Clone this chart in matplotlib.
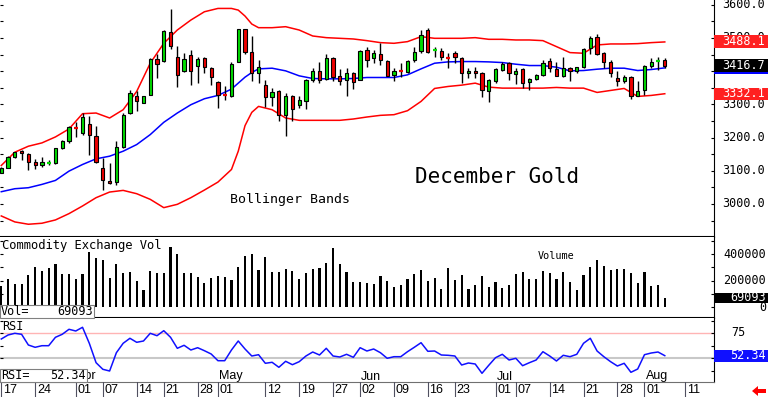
import numpy as np
import pandas as pd
import matplotlib
matplotlib.use("Agg")
import matplotlib.pyplot as plt
import matplotlib.transforms as mtransforms
from matplotlib.patches import Rectangle, Polygon

W, H = 768, 397
MONO = "DejaVu Sans Mono"
SANS = "Liberation Sans"

# trading calendar (COMEX holidays removed)
holidays = ["2025-04-18", "2025-05-26", "2025-06-19", "2025-07-04"]
days = pd.bdate_range("2025-03-17", "2025-08-15")
days = days[~days.isin(pd.to_datetime(holidays))]

# December gold daily candles, Mar 17 .. Aug 6
opens = [3093, 3109, 3141, 3160, 3152, 3126, 3116, 3123, 3122, 3168,
         3191, 3230, 3214, 3241, 3206, 3107, 3069, 3066, 3171, 3274,
         3324, 3304, 3327, 3438, 3430, 3517, 3444, 3402, 3449, 3415,
         3440, 3411, 3366, 3329, 3324, 3429, 3526, 3459, 3396, 3357,
         3322, 3339, 3269, 3324, 3297, 3311, 3374, 3402, 3377, 3439,
         3384, 3372, 3394, 3374, 3464, 3439, 3452, 3431, 3389, 3403,
         3399, 3434, 3462, 3524, 3463, 3462, 3442, 3456, 3439, 3394,
         3402, 3394, 3339, 3369, 3404, 3424, 3391, 3406, 3367, 3377,
         3389, 3432, 3406, 3386, 3409, 3401, 3414, 3469, 3504, 3456,
         3429, 3379, 3369, 3382, 3326, 3342, 3417, 3431, 3434]
highs = [3110, 3146, 3158, 3164, 3154, 3136, 3142, 3134, 3170, 3193,
         3236, 3246, 3274, 3264, 3234, 3139, 3124, 3190, 3274, 3342,
         3339, 3326, 3439, 3452, 3524, 3586, 3477, 3456, 3464, 3442,
         3444, 3414, 3369, 3354, 3429, 3528, 3528, 3506, 3434, 3374,
         3349, 3344, 3334, 3329, 3324, 3376, 3409, 3429, 3451, 3444,
         3406, 3409, 3399, 3464, 3474, 3464, 3484, 3434, 3409, 3426,
         3434, 3474, 3524, 3529, 3474, 3469, 3456, 3462, 3442, 3409,
         3414, 3399, 3377, 3409, 3429, 3429, 3409, 3409, 3379, 3392,
         3434, 3439, 3429, 3442, 3414, 3414, 3471, 3506, 3511, 3459,
         3434, 3402, 3389, 3386, 3369, 3419, 3439, 3444, 3439]
lows = [3092, 3107, 3139, 3132, 3102, 3106, 3111, 3118, 3121, 3166,
        3184, 3202, 3209, 3147, 3124, 3041, 3059, 3057, 3169, 3271,
        3279, 3304, 3327, 3379, 3427, 3467, 3352, 3398, 3359, 3364,
        3394, 3359, 3289, 3314, 3322, 3427, 3452, 3369, 3364, 3292,
        3296, 3249, 3206, 3249, 3289, 3287, 3367, 3364, 3374, 3369,
        3357, 3324, 3346, 3374, 3414, 3424, 3419, 3384, 3371, 3382,
        3394, 3429, 3456, 3454, 3442, 3434, 3411, 3424, 3364, 3379,
        3379, 3321, 3308, 3364, 3402, 3374, 3362, 3349, 3344, 3374,
        3386, 3399, 3384, 3381, 3371, 3394, 3411, 3452, 3449, 3409,
        3382, 3354, 3364, 3316, 3324, 3329, 3409, 3404, 3411]
closes = [3107, 3143, 3156, 3155, 3127, 3117, 3126, 3125, 3168, 3190,
          3231, 3227, 3262, 3207, 3127, 3071, 3062, 3173, 3269, 3334,
          3309, 3324, 3436, 3422, 3520, 3477, 3388, 3438, 3400, 3436,
          3412, 3381, 3328, 3327, 3421, 3526, 3459, 3396, 3414, 3322,
          3337, 3269, 3324, 3287, 3314, 3374, 3401, 3374, 3441, 3382,
          3369, 3394, 3368, 3461, 3434, 3454, 3434, 3386, 3402, 3401,
          3430, 3459, 3509, 3459, 3465, 3442, 3440, 3444, 3394, 3401,
          3396, 3342, 3372, 3406, 3422, 3394, 3402, 3364, 3377, 3389,
          3426, 3409, 3386, 3409, 3401, 3412, 3466, 3501, 3452, 3429,
          3396, 3369, 3382, 3324, 3341, 3416, 3429, 3433, 3416.7]

# Bollinger bands
band_idx = [0, 2, 4, 6, 8, 10, 12, 14, 16, 18, 20, 22, 24, 26, 28, 30, 32, 34, 35, 36,
            37, 38, 40, 42, 44, 46, 48, 50, 52, 54, 56, 58, 60, 62, 64, 66, 68, 70, 72,
            74, 76, 78, 80, 82, 84, 86, 88, 90, 92, 94, 96, 98]
band_upper = [3116, 3156, 3174, 3184, 3202, 3226, 3272, 3274, 3259, 3284, 3339, 3424,
              3484, 3524, 3554, 3579, 3589, 3589, 3584, 3566, 3542, 3531, 3531, 3534,
              3524, 3506, 3501, 3499, 3497, 3492, 3486, 3484, 3489, 3504, 3499, 3499,
              3499, 3501, 3496, 3496, 3494, 3494, 3492, 3474, 3456, 3454, 3479, 3482,
              3482, 3483, 3486, 3488.1]
band_mid = [3037, 3046, 3049, 3059, 3071, 3099, 3119, 3136, 3144, 3159, 3179, 3209,
            3246, 3274, 3299, 3317, 3327, 3346, 3364, 3382, 3396, 3407, 3409, 3401,
            3386, 3378, 3377, 3377, 3378, 3381, 3381, 3381, 3389, 3407, 3424, 3428,
            3429, 3429, 3428, 3426, 3421, 3417, 3417, 3412, 3401, 3402, 3406, 3409,
            3409, 3402, 3405, 3410]
band_lower = [2964, 2946, 2939, 2942, 2952, 2971, 2994, 3019, 3036, 3041, 3031, 3014,
              2989, 2999, 3019, 3042, 3066, 3104, 3159, 3236, 3276, 3294, 3284, 3259,
              3252, 3252, 3252, 3252, 3256, 3262, 3267, 3269, 3281, 3309, 3348, 3354,
              3358, 3364, 3352, 3349, 3349, 3349, 3349, 3351, 3349, 3349, 3336, 3342,
              3348, 3324, 3327, 3332.1]

# Commodity exchange volume, thousands of contracts
volume_k = [158.5, 208.8, 171.1, 173.6, 241.5, 304.4, 271.7, 291.9, 324.6, 246.6,
            246.6, 211.3, 249.1, 417.7, 367.3, 354.8, 216.4, 322.0, 254.1, 266.7,
            196.2, 128.3, 274.2, 259.1, 259.1, 450.4, 397.5, 254.1, 254.1, 223.9,
            178.6, 216.4, 234.0, 229.0, 203.8, 299.4, 384.9, 397.5, 279.3, 374.9,
            266.7, 266.7, 284.3, 271.7, 211.3, 259.1, 284.3, 291.9, 329.6, 442.8,
            324.6, 261.7, 191.2, 191.2, 178.6, 173.6, 234.0, 196.2, 153.5, 166.1,
            208.8, 246.6, 279.3, 196.2, 216.4, 133.3, 291.9, 203.8, 241.5, 135.9,
            166.1, 234.0, 148.4, 186.2, 145.9, 166.1, 249.1, 266.7, 211.3, 211.3,
            274.2, 254.1, 208.8, 266.7, 186.2, 128.3, 241.5, 304.4, 354.8, 309.5,
            279.3, 286.8, 286.8, 254.1, 183.7, 266.7, 158.5, 166.1, 69.093]

rsi = [69.0, 73.0, 74.7, 73.7, 63.0, 60.7, 62.3, 62.3, 70.7, 73.7,
       78.7, 77.0, 80.7, 64.7, 45.3, 38.7, 37.0, 55.3, 64.7, 69.7,
       65.7, 67.0, 74.7, 72.3, 77.3, 70.7, 59.7, 62.7, 58.0, 60.3,
       57.3, 54.0, 47.3, 47.3, 58.0, 67.0, 59.0, 52.0, 53.3, 44.7,
       45.7, 40.7, 46.7, 43.3, 46.3, 52.0, 56.0, 53.0, 59.7, 52.0,
       51.0, 53.7, 50.7, 60.3, 57.0, 59.0, 55.3, 49.7, 51.3, 51.3,
       56.3, 60.7, 65.3, 56.7, 57.0, 53.0, 52.7, 52.0, 43.0, 45.0,
       44.0, 34.7, 42.7, 50.3, 53.7, 48.0, 49.7, 42.3, 45.3, 48.0,
       56.3, 52.0, 47.0, 52.7, 51.3, 53.7, 64.7, 69.7, 57.0, 51.3,
       46.3, 42.0, 44.7, 35.7, 39.0, 53.3, 55.0, 56.0, 52.34]

# price scale labels (3400.0 sits fully under the last-price box in the original)
price_labels = [3000, 3100, 3200, 3300, 3500, 3600]

tick_dates = ["2025-03-17", "2025-03-24", "2025-04-01", "2025-04-07", "2025-04-14",
              "2025-04-21", "2025-04-28", "2025-05-01", "2025-05-12", "2025-05-19",
              "2025-05-27", "2025-06-02", "2025-06-09", "2025-06-16", "2025-06-23",
              "2025-07-01", "2025-07-07", "2025-07-14", "2025-07-21", "2025-07-28",
              "2025-08-01", "2025-08-11"]
month_labels = ["Apr", "May", "Jun", "Jul", "Aug"]
month_dates = ["2025-04-01", "2025-05-01", "2025-06-02", "2025-07-01", "2025-08-01"]

day_pos = {d.strftime("%Y-%m-%d"): i for i, d in enumerate(days)}
x = np.arange(len(closes))
XLIM = (-0.19, 105.27)
GREEN, RED = "#00dd00", "#ee0000"

fig = plt.figure(figsize=(W / 100, H / 100), dpi=100)


def add_panel(top, bottom):
    a = fig.add_axes([0, 1 - bottom / H, 714 / W, (bottom - top) / H])
    a.set_xlim(*XLIM)
    a.set_xticks([])
    a.spines["top"].set_visible(False)
    a.spines["left"].set_visible(False)
    a.tick_params(axis="y", direction="in", length=2, left=True, right=True,
                  labelleft=False, labelright=False)
    return a


def fx(px):
    return px / W


def fy(py):
    return 1 - py / H


ax = add_panel(0, 237)
axv = add_panel(237, 318)
axr = add_panel(318, 382)
axd = fig.add_axes([0, 0, 714 / W, 15 / H])
axd.set_xlim(*XLIM)
axd.axis("off")

# ---- price panel
ax.set_ylim(2900.6, 3614.4)
ax.set_yticks(np.arange(2950, 3601, 50))
ax.spines["bottom"].set_linewidth(1.5)
for i in x:
    o, hi, lo, c = opens[i], highs[i], lows[i], closes[i]
    col = GREEN if c >= o else RED
    ax.vlines(i, lo, hi, color="black", lw=1, zorder=2)
    if abs(c - o) < 4:
        ax.hlines((o + c) / 2, i - 0.3, i + 0.3, color=col, lw=1.6, zorder=3)
    else:
        ax.add_patch(Rectangle((i - 0.24, min(o, c)), 0.48, abs(c - o), fc=col,
                               ec="black", lw=0.8, zorder=3))
ax.plot(band_idx, band_upper, color="#ff0000", lw=1.1, zorder=1)
ax.plot(band_idx, band_lower, color="#ff0000", lw=1.1, zorder=1)
ax.plot(band_idx, band_mid, color="#0000ff", lw=1.1, zorder=1)

bt = mtransforms.blended_transform_factory(fig.transFigure, ax.transData)
for p in price_labels:
    ax.text(fx(722), p, f"{p:.1f}", transform=bt, family=MONO, fontsize=8.5,
            va="center", ha="left", clip_on=False)


def badge(axis, value, text, fc, height, tc="white", ha="left", xpos=722):
    t = mtransforms.blended_transform_factory(fig.transFigure, axis.transData)
    axis.add_patch(Rectangle((fx(714), value - height / 2), fx(W - 714), height,
                             transform=t, fc=fc, ec="none", clip_on=False, zorder=5))
    if text:
        axis.text(fx(xpos), value, text, transform=t, family=MONO, fontsize=8.5,
                  color=tc, va="center", ha=ha, clip_on=False, zorder=6)


badge(ax, band_upper[-1], f"{band_upper[-1]:.1f}", "#ff2020", 39)
badge(ax, band_mid[-1], "", "#0000ff", 39)
badge(ax, closes[-1], f"{closes[-1]:.1f}", "#000000", 37)
badge(ax, band_lower[-1], f"{band_lower[-1]:.1f}", "#ff2020", 36)

fig.text(fx(415), fy(177), "December Gold", family=MONO, fontsize=15,
         va="center", ha="left")
fig.text(fx(230), fy(200), "Bollinger Bands", family=MONO, fontsize=9.5,
         va="center", ha="left")

# ---- volume panel
axv.set_ylim(-83000, 528300)
axv.set_yticks(np.arange(0, 500001, 100000))
axv.spines["bottom"].set_linewidth(1.5)
axv.bar(x, np.array(volume_k) * 1000, width=0.32, color="black")
vt = mtransforms.blended_transform_factory(fig.transFigure, axv.transData)
for v in (400000, 200000, 0):
    axv.text(fx(766), v, str(v), transform=vt, family=MONO, fontsize=8.5,
             va="center", ha="right", clip_on=False)
badge(axv, volume_k[-1] * 1000, "69093", "#000000", 80000, ha="right", xpos=766)
fig.text(fx(2), fy(245), "Commodity Exchange Vol", family=MONO, fontsize=8.7,
         va="center", ha="left")
fig.text(fx(538), fy(256), "Volume", family=MONO, fontsize=7.3, va="center", ha="left")

# ---- RSI panel
axr.set_ylim(26, 90)
axr.set_yticks([37.5, 50, 62.5, 75, 87.5])
axr.spines["bottom"].set_color("#707070")
axr.axhline(75, color="#ffb4b4", lw=1, zorder=0)
axr.axhline(50, color="#c8c8c8", lw=1.5, zorder=0)
axr.plot(x, rsi, color="#1010ff", lw=1.1)
rt = mtransforms.blended_transform_factory(fig.transFigure, axr.transData)
axr.text(fx(731), 75, "75", transform=rt, family=MONO, fontsize=8.5,
         va="center", ha="left", clip_on=False)
badge(axr, rsi[-1], f"{rsi[-1]:.2f}", "#1010ff", 12, ha="right", xpos=766)
fig.text(fx(2), fy(326), "RSI", family=MONO, fontsize=8.5, va="center", ha="left")
for lab, d in zip(month_labels, month_dates):
    axr.text(day_pos[d] + 0.15, 31.5, lab, family=SANS, fontsize=9,
             va="center", ha="left")

# value boxes in the lower-left corners
for top, bot, right, lab, val in [(305, 318, 94, "Vol=", "69093"),
                                  (369, 382, 87, "RSI=", f"{rsi[-1]:.2f}")]:
    fig.add_artist(Rectangle((0, fy(bot)), fx(right), (bot - top) / H, fc="white",
                             ec="#808080", lw=0.8, transform=fig.transFigure, zorder=5))
    fig.text(fx(1), fy((top + bot) / 2), lab, family=MONO, fontsize=8.5,
             va="center", ha="left", zorder=6)
    fig.text(fx(right - 1), fy((top + bot) / 2), val, family=MONO, fontsize=8.5,
             va="center", ha="right", zorder=6)

# ---- date row
for d in tick_dates:
    i = day_pos[d]
    axd.axvline(i, color="#505060", lw=0.8)
    axd.text(i + 0.25, 0.45, d[-2:], family=SANS, fontsize=9, va="center", ha="left")
axd.set_ylim(0, 1)

fig.add_artist(Polygon([(fx(752), fy(391)), (fx(758), fy(386)), (fx(758), fy(389)),
                        (fx(766), fy(389)), (fx(766), fy(393)), (fx(758), fy(393)),
                        (fx(758), fy(396))], closed=True, fc="#ff0000", ec="none",
                       transform=fig.transFigure))

fig.savefig("out.png", dpi=100)
